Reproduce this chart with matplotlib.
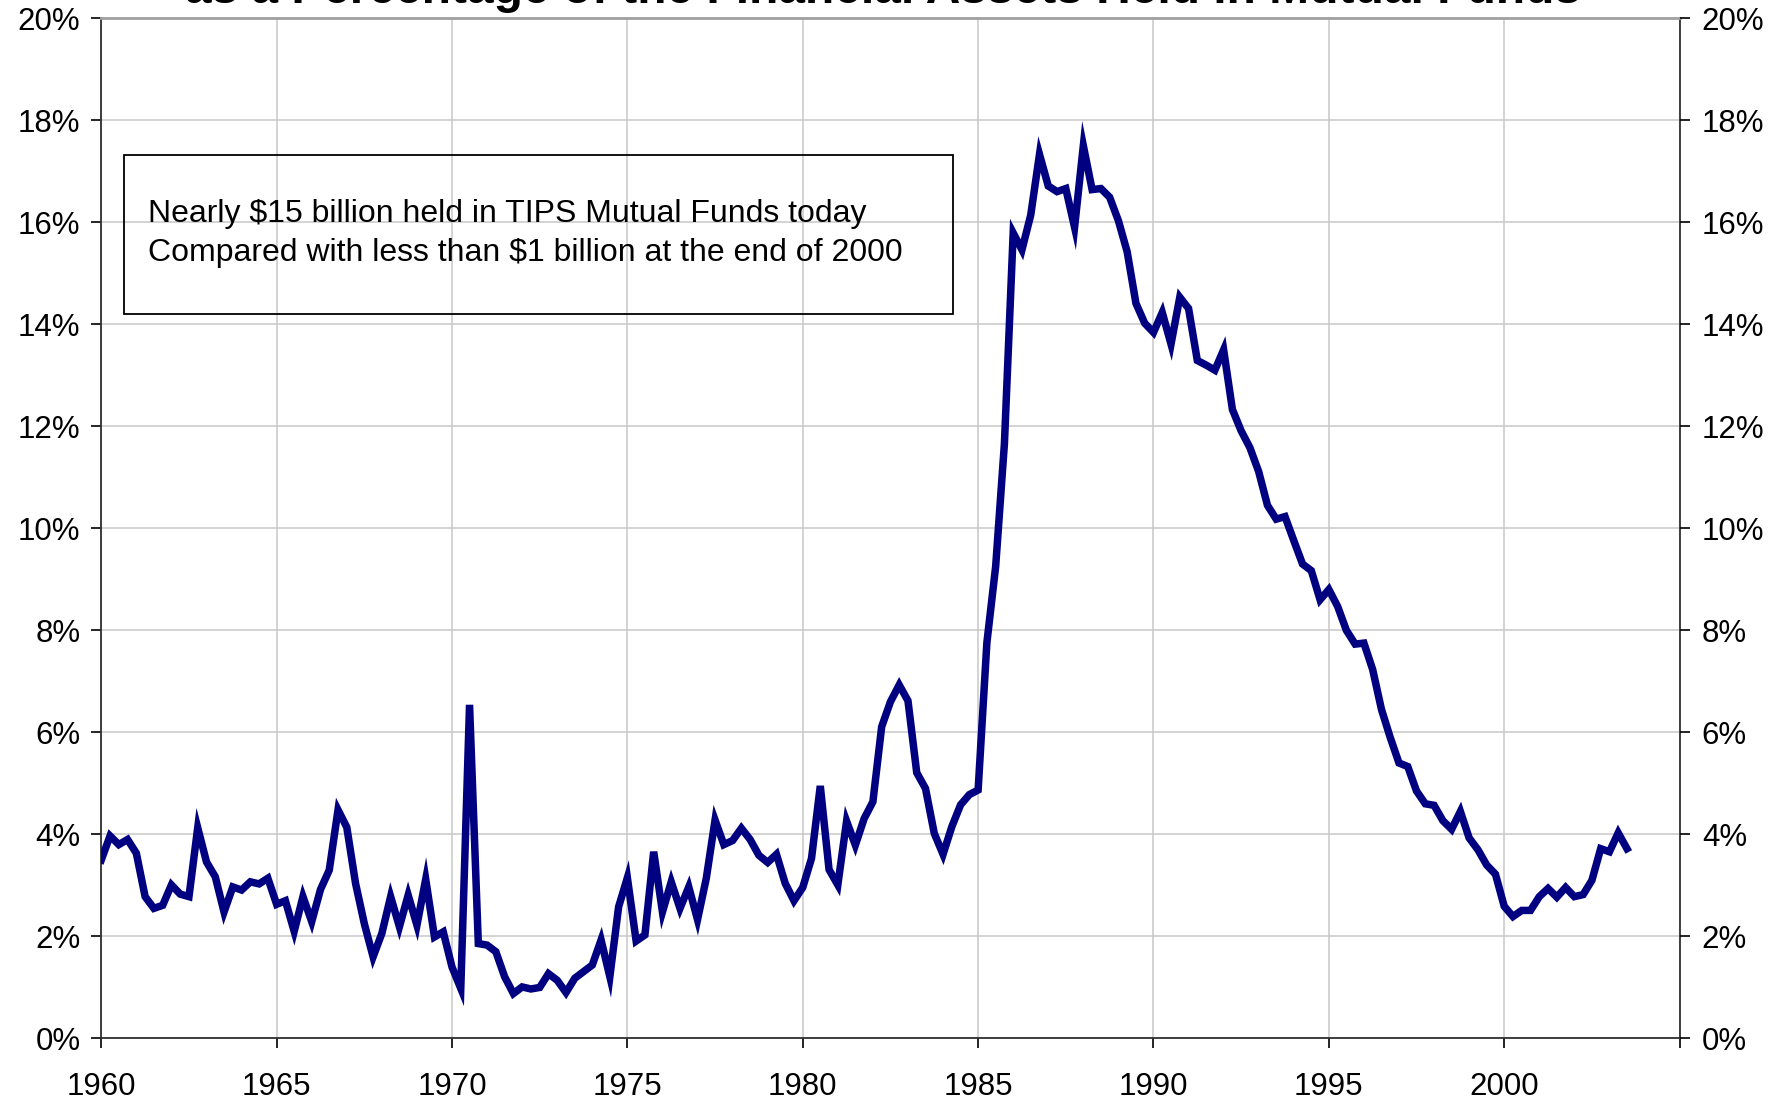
import numpy as np
import matplotlib.pyplot as plt
from matplotlib.patches import Rectangle
from matplotlib.ticker import FuncFormatter

# quarterly share (%), 1960Q1 .. 2003Q3
share = [
    3.50, 3.97, 3.80, 3.90,   # 1960
    3.63, 2.78, 2.55, 2.61,   # 1961
    3.01, 2.83, 2.78, 4.13,   # 1962
    3.46, 3.17, 2.48, 2.97,   # 1963
    2.91, 3.07, 3.03, 3.14,   # 1964
    2.63, 2.70, 2.10, 2.78,   # 1965
    2.29, 2.92, 3.30, 4.48,   # 1966
    4.14, 3.04, 2.25, 1.60,   # 1967
    2.06, 2.78, 2.19, 2.81,   # 1968
    2.22, 3.12, 1.99, 2.09,   # 1969
    1.40, 0.98, 6.54, 1.86,   # 1970
    1.83, 1.70, 1.21, 0.88,   # 1971
    1.01, 0.97, 1.00, 1.27,   # 1972
    1.14, 0.90, 1.18, 1.31,   # 1973
    1.44, 1.93, 1.21, 2.58,   # 1974
    3.15, 1.91, 2.03, 3.66,   # 1975
    2.48, 3.07, 2.55, 2.97,   # 1976
    2.33, 3.14, 4.28, 3.80,   # 1977
    3.88, 4.12, 3.90, 3.59,   # 1978
    3.45, 3.61, 3.04, 2.70,   # 1979
    2.96, 3.53, 4.95, 3.31,   # 1980
    3.01, 4.26, 3.79, 4.31,   # 1981
    4.64, 6.11, 6.60, 6.93,   # 1982
    6.62, 5.21, 4.90, 4.02,   # 1983
    3.61, 4.15, 4.58, 4.78,   # 1984
    4.87, 7.76, 9.25, 11.66,  # 1985
    15.79, 15.46, 16.14, 17.33,  # 1986
    16.71, 16.60, 16.66, 15.90,  # 1987
    17.50, 16.64, 16.66, 16.49,  # 1988
    16.03, 15.42, 14.41, 14.02,  # 1989
    13.84, 14.23, 13.61, 14.53,  # 1990
    14.31, 13.29, 13.20, 13.10,  # 1991
    13.50, 12.33, 11.91, 11.58,  # 1992
    11.11, 10.45, 10.18, 10.23,  # 1993
    9.76, 9.30, 9.17, 8.60,   # 1994
    8.80, 8.47, 8.00, 7.73,   # 1995
    7.75, 7.23, 6.45, 5.90,   # 1996
    5.40, 5.33, 4.85, 4.60,   # 1997
    4.57, 4.27, 4.10, 4.45,   # 1998
    3.93, 3.70, 3.40, 3.22,   # 1999
    2.59, 2.39, 2.51, 2.51,   # 2000
    2.78, 2.94, 2.77, 2.96,   # 2001
    2.78, 2.82, 3.10, 3.72,   # 2002
    3.66, 4.03, 3.72,         # 2003
]
start_year = 1960
dates = start_year + np.arange(len(share)) / 4.0

year_ticks = list(range(1960, 2006, 5))
year_labels = [str(y) if y <= 2000 else "" for y in year_ticks]
pct_ticks = list(range(0, 21, 2))

title = "as a Percentage of the Financial Assets Held in Mutual Funds"
note_lines = ["Nearly $15 billion held in TIPS Mutual Funds today",
              "Compared with less than $1 billion at the end of 2000"]

plt.rcParams['font.family'] = ['Liberation Sans', 'DejaVu Sans']

fig = plt.figure(figsize=(17.83, 11.01), dpi=100)
ax = fig.add_axes([0.0568, 0.0568, 0.8852, 0.9267])

ax.plot(dates, share, color="#000080", lw=5.4, solid_joinstyle="miter", zorder=3)

ax.set_xlim(1960, 2005)
ax.set_ylim(0, 20)
ax.set_xticks(year_ticks)
ax.set_xticklabels(year_labels)
ax.set_yticks(pct_ticks)
pct_fmt = FuncFormatter(lambda v, p: "%d%%" % v)
ax.yaxis.set_major_formatter(pct_fmt)
ax.grid(True, color="#c8c8c8", lw=1.1)
ax.set_axisbelow(True)
ax.tick_params(axis="both", labelsize=22.5, length=7, width=1.2, direction="out")
ax.tick_params(axis="x", pad=17)
ax.tick_params(axis="y", pad=8)

for side in ["left", "bottom", "right"]:
    ax.spines[side].set_color("#303030")
    ax.spines[side].set_linewidth(1.3)
ax.spines["top"].set_color("#a0a0a0")
ax.spines["top"].set_linewidth(2)

ax2 = ax.twinx()
ax2.set_ylim(0, 20)
ax2.set_yticks(pct_ticks)
ax2.yaxis.set_major_formatter(pct_fmt)
ax2.tick_params(axis="y", labelsize=22.5, length=7, width=1.2, pad=9)
for s in ax2.spines.values():
    s.set_visible(False)

# text box
ax.add_patch(Rectangle((0.0146, 0.7101), 0.525, 0.1561, transform=ax.transAxes,
                       fill=False, edgecolor="black", lw=1.3, zorder=4))
ax.text(0.0296, 0.8082, note_lines[0], transform=ax.transAxes, fontsize=23,
        va="center", ha="left", zorder=5)
ax.text(0.0296, 0.7703, note_lines[1], transform=ax.transAxes, fontsize=23,
        va="center", ha="left", zorder=5)

# title, partly above the top edge as in the original
fig.text(0.4952, 1 - 3 / 1101, title, fontsize=34.5, fontweight="bold",
         ha="center", va="baseline")

fig.savefig("out.png", dpi=100)
